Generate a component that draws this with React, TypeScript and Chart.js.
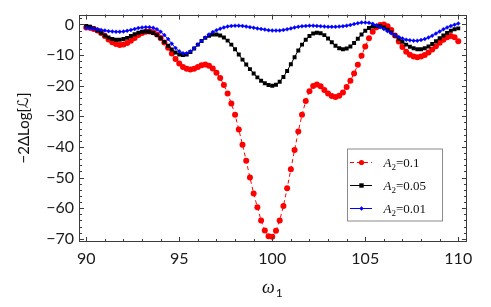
import React, { useEffect, useRef } from 'react';
import { Chart, registerables } from 'chart.js';
Chart.register(...registerables);

const omega = [
  90.0, 90.2, 90.4, 90.6, 90.8, 91.0, 91.2, 91.4, 91.6, 91.8,
  92.0, 92.2, 92.4, 92.6, 92.8, 93.0, 93.2, 93.4, 93.6, 93.8,
  94.0, 94.2, 94.4, 94.6, 94.8, 95.0, 95.2, 95.4, 95.6, 95.8,
  96.0, 96.2, 96.4, 96.6, 96.8, 97.0, 97.2, 97.4, 97.6, 97.8,
  98.0, 98.2, 98.4, 98.6, 98.8, 99.0, 99.2, 99.4, 99.6, 99.8,
  100.0, 100.2, 100.4, 100.6, 100.8, 101.0, 101.2, 101.4, 101.6, 101.8,
  102.0, 102.2, 102.4, 102.6, 102.8, 103.0, 103.2, 103.4, 103.6, 103.8,
  104.0, 104.2, 104.4, 104.6, 104.8, 105.0, 105.2, 105.4, 105.6, 105.8,
  106.0, 106.2, 106.4, 106.6, 106.8, 107.0, 107.2, 107.4, 107.6, 107.8,
  108.0, 108.2, 108.4, 108.6, 108.8, 109.0, 109.2, 109.4, 109.6, 109.8,
  110.0,
];

const redValues = [
  -1.0, -1.1, -1.5, -2.0, -2.8, -3.8, -4.9, -5.8, -6.4, -6.7,
  -6.6, -6.1, -5.3, -4.4, -3.5, -2.8, -2.4, -2.3, -2.6, -3.3,
  -4.4, -5.9, -7.6, -9.5, -11.3, -12.8, -13.9, -14.5, -14.7, -14.5,
  -13.9, -13.3, -13.1, -13.5, -14.4, -15.8, -17.5, -19.8, -22.6, -25.8,
  -29.5, -34.3, -39.3, -44.5, -50.0, -55.2, -59.7, -64.0, -67.3, -69.2,
  -69.3, -67.4, -64.0, -59.3, -53.5, -47.3, -41.0, -35.0, -29.5, -25.0,
  -21.8, -20.1, -19.6, -20.2, -21.4, -22.6, -23.4, -23.7, -23.3, -22.2,
  -20.4, -18.4, -16.0, -13.2, -10.2, -7.2, -4.5, -2.4, -0.9, -0.2,
  0.0, -0.6, -1.8, -3.6, -5.6, -7.4, -8.9, -9.9, -10.5, -10.7,
  -10.5, -10.0, -9.2, -8.2, -7.1, -6.0, -5.0, -4.2, -3.8, -4.2,
  -5.5,
];

const blackValues = [
  -0.5, -0.8, -1.3, -2.0, -2.8, -3.6, -4.3, -4.8, -5.0, -5.0,
  -4.8, -4.4, -3.8, -3.2, -2.7, -2.4, -2.3, -2.4, -2.8, -3.5,
  -4.5, -5.7, -7.0, -8.2, -9.2, -9.8, -10.0, -9.8, -9.0, -7.9,
  -6.6, -5.4, -4.4, -3.7, -3.3, -3.3, -3.6, -4.3, -5.3, -6.6,
  -8.1, -9.8, -11.5, -13.1, -14.6, -16.0, -17.3, -18.4, -19.2, -19.8,
  -20.0, -19.7, -18.7, -17.2, -15.2, -13.0, -10.7, -8.5, -6.6, -5.0,
  -3.8, -3.0, -2.7, -2.9, -3.5, -4.6, -5.8, -7.0, -7.8, -8.1,
  -7.9, -7.2, -6.1, -4.7, -3.3, -2.1, -1.2, -0.7, -0.5, -0.6,
  -1.0, -1.7, -2.6, -3.6, -4.7, -5.7, -6.6, -7.3, -7.8, -8.1,
  -8.1, -7.8, -7.2, -6.4, -5.5, -4.5, -3.6, -2.8, -2.1, -1.6,
  -1.3,
];

const blueValues = [
  -1.2, -1.3, -1.4, -1.6, -1.8, -2.0, -2.2, -2.3, -2.4, -2.4,
  -2.3, -2.1, -1.8, -1.5, -1.2, -1.0, -0.9, -0.9, -1.1, -1.6,
  -2.4, -3.5, -4.8, -6.3, -7.7, -8.8, -9.4, -9.4, -8.8, -7.8,
  -6.6, -5.4, -4.3, -3.3, -2.5, -1.9, -1.4, -1.0, -0.7, -0.5,
  -0.4, -0.4, -0.5, -0.7, -0.9, -1.1, -1.3, -1.5, -1.7, -1.9,
  -2.0, -2.0, -2.0, -1.8, -1.6, -1.3, -1.0, -0.8, -0.6, -0.5,
  -0.4, -0.4, -0.5, -0.6, -0.7, -0.8, -0.8, -0.8, -0.7, -0.6,
  -0.4, -0.2, 0.1, 0.4, 0.6, 0.6, 0.5, 0.2, -0.3, -0.9,
  -1.5, -2.2, -2.9, -3.5, -4.1, -4.6, -5.0, -5.2, -5.3, -5.3,
  -5.1, -4.8, -4.3, -3.7, -3.0, -2.3, -1.6, -1.0, -0.5, -0.1,
  0.3,
];

const seriesNames = ['0.1', '0.05', '0.01'];
const xTicks = [90, 95, 100, 105, 110];
const yTicks = [0, -10, -20, -30, -40, -50, -60, -70];
const xMinorStep = 1;
const yMinorStep = 2;

const tickFont = { family: 'Lato, "Open Sans", sans-serif', size: 16 };

const toPoints = (vals: number[]) => vals.map((v, i) => ({ x: omega[i], y: v }));

function drawMarker(ctx: CanvasRenderingContext2D, style: string, x: number, y: number, r: number, color: string) {
  ctx.fillStyle = color;
  ctx.beginPath();
  if (style === 'circle') {
    ctx.arc(x, y, r, 0, Math.PI * 2);
  } else if (style === 'rect') {
    ctx.rect(x - r, y - r, 2 * r, 2 * r);
  } else {
    ctx.moveTo(x, y - r);
    ctx.lineTo(x + r, y);
    ctx.lineTo(x, y + r);
    ctx.lineTo(x - r, y);
    ctx.closePath();
  }
  ctx.fill();
}

const framePlugin = {
  id: 'frameTicks',
  afterDatasetsDraw(chart: any) {
    const { ctx, chartArea: a, scales } = chart;
    const xs = scales.x;
    const ys = scales.y;
    ctx.save();
    ctx.strokeStyle = '#3c3c3c';
    ctx.lineWidth = 1;
    ctx.strokeRect(Math.round(a.left) + 0.5, Math.round(a.top) + 0.5, Math.round(a.right - a.left) - 1, Math.round(a.bottom - a.top) - 1);
    ctx.beginPath();
    for (let v = xTicks[0]; v <= xTicks[xTicks.length - 1] + 1e-9; v += xMinorStep) {
      const px = Math.round(xs.getPixelForValue(v)) + 0.5;
      const len = xTicks.includes(Math.round(v)) ? 5 : 3;
      ctx.moveTo(px, a.bottom);
      ctx.lineTo(px, a.bottom - len);
      ctx.moveTo(px, a.top);
      ctx.lineTo(px, a.top + len);
    }
    for (let v = -70; v <= ys.max + 1e-9; v += yMinorStep) {
      const py = Math.round(ys.getPixelForValue(v)) + 0.5;
      const len = v % 10 === 0 ? 5 : 3;
      ctx.moveTo(a.left, py);
      ctx.lineTo(a.left + len, py);
      ctx.moveTo(a.right, py);
      ctx.lineTo(a.right - len, py);
    }
    ctx.stroke();
    ctx.restore();
  },
  afterDraw(chart: any) {
    const { ctx } = chart;
    ctx.save();
    // y title
    ctx.translate(24, 128);
    ctx.rotate(-Math.PI / 2);
    ctx.fillStyle = '#111';
    ctx.textBaseline = 'middle';
    const sansF = '15px Lato, "DejaVu Sans", sans-serif';
    const scriptF = 'italic 15px "DejaVu Sans", sans-serif';
    const part1 = '\u22122\u0394Log[';
    const part2 = '\u2112';
    const part3 = ']';
    ctx.font = sansF;
    const w1 = ctx.measureText(part1).width;
    ctx.font = scriptF;
    const w2 = ctx.measureText(part2).width;
    ctx.font = sansF;
    const w3 = ctx.measureText(part3).width;
    let sx = -(w1 + w2 + w3) / 2;
    ctx.textAlign = 'left';
    ctx.fillText(part1, sx, 0);
    sx += w1;
    ctx.font = scriptF;
    ctx.fillText(part2, sx, 0);
    sx += w2;
    ctx.font = sansF;
    ctx.fillText(part3, sx, 0);
    ctx.restore();

    // x title
    ctx.save();
    ctx.fillStyle = '#111';
    ctx.textBaseline = 'alphabetic';
    ctx.textAlign = 'left';
    ctx.font = 'italic 18px "Liberation Serif", serif';
    const wo = ctx.measureText('\u03c9').width;
    ctx.fillText('\u03c9', 262, 293);
    ctx.font = '12px Lato, sans-serif';
    ctx.fillText('1', 262 + wo + 1, 297);
    ctx.restore();

    // legend
    ctx.save();
    const bx = 347, by = 148.5, bw = 95, bh = 72;
    ctx.fillStyle = '#ffffff';
    ctx.fillRect(bx, by, bw, bh);
    ctx.strokeStyle = '#8a8a8a';
    ctx.lineWidth = 1;
    ctx.strokeRect(bx + 0.5, by + 0.5, bw, bh);
    const rows = [162.5, 185.5, 208.5];
    chart.data.datasets.forEach((ds: any, i: number) => {
      const yy = rows[i];
      ctx.strokeStyle = ds.borderColor;
      ctx.lineWidth = 1;
      ctx.setLineDash(ds.borderDash || []);
      ctx.beginPath();
      ctx.moveTo(350, yy);
      ctx.lineTo(372, yy);
      ctx.stroke();
      ctx.setLineDash([]);
      const mr = ds.pointStyle === 'circle' ? 2.6 : ds.pointStyle === 'rect' ? 2.2 : 2.2;
      drawMarker(ctx, ds.pointStyle, 361.5, yy, mr, ds.pointBackgroundColor);
      ctx.fillStyle = '#111';
      ctx.textBaseline = 'alphabetic';
      ctx.textAlign = 'left';
      let tx = 383.5;
      const base = yy + 4.5;
      ctx.font = 'italic 13px "Liberation Serif", serif';
      ctx.fillText('A', tx, base);
      tx += ctx.measureText('A').width;
      ctx.font = '9px "Liberation Serif", serif';
      ctx.fillText('2', tx, base + 2.5);
      tx += ctx.measureText('2').width;
      ctx.font = '13px "Liberation Serif", serif';
      ctx.fillText('=' + seriesNames[i], tx, base);
    });
    ctx.restore();
  },
};

export default function App() {
  const ref = useRef<HTMLCanvasElement | null>(null);
  useEffect(() => {
    document.body.style.margin = '0';
    const canvas = ref.current;
    if (!canvas) return;
    const chart = new Chart(canvas, {
      type: 'line',
      data: {
        datasets: [
          {
            label: 'A2=0.1',
            data: toPoints(redValues),
            borderColor: '#ff0000',
            borderWidth: 1,
            borderDash: [4, 3],
            pointStyle: 'circle',
            pointRadius: 3,
            pointBackgroundColor: '#ff0000',
            pointBorderColor: '#ff0000',
            pointBorderWidth: 0,
            tension: 0,
            order: 3,
          },
          {
            label: 'A2=0.05',
            data: toPoints(blackValues),
            borderColor: '#000000',
            borderWidth: 1,
            pointStyle: 'rect',
            pointRadius: 2.8,
            pointBackgroundColor: '#000000',
            pointBorderColor: '#000000',
            pointBorderWidth: 0,
            tension: 0,
            order: 2,
          },
          {
            label: 'A2=0.01',
            data: toPoints(blueValues),
            borderColor: '#0000ff',
            borderWidth: 1,
            pointStyle: 'rectRot',
            pointRadius: 2,
            pointBackgroundColor: '#0000ff',
            pointBorderColor: '#0000ff',
            pointBorderWidth: 0.4,
            tension: 0,
            order: 1,
          },
        ],
      },
      options: {
        animation: false,
        responsive: false,
        devicePixelRatio: 1,
        layout: { padding: { top: 2, right: 24, left: 0, bottom: 0 } },
        plugins: { legend: { display: false }, tooltip: { enabled: false } },
        scales: {
          x: {
            type: 'linear',
            min: 89.61,
            max: 110.47,
            grid: { display: false, drawTicks: false },
            border: { display: false },
            afterBuildTicks: (s: any) => { s.ticks = xTicks.map((v) => ({ value: v })); },
            afterFit: (s: any) => { s.height = 65; },
            ticks: {
              font: tickFont,
              color: '#1a1a1a',
              padding: 7,
              maxRotation: 0,
              autoSkip: false,
              callback: (v: any) => String(v),
            },
          },
          y: {
            type: 'linear',
            min: -71.05,
            max: 3.2,
            grid: { display: false, drawTicks: false },
            border: { display: false },
            afterBuildTicks: (s: any) => { s.ticks = yTicks.map((v) => ({ value: v })); },
            afterFit: (s: any) => { s.width = 79; },
            ticks: {
              font: tickFont,
              color: '#1a1a1a',
              padding: 5,
              autoSkip: false,
              callback: (v: any) => (v < 0 ? '\u2212' + Math.abs(v) : String(v)),
            },
          },
        },
      },
      plugins: [framePlugin],
    });
    return () => chart.destroy();
  }, []);
  return (
    <div style={{ position: 'relative', width: 491, height: 307, background: '#fff' }}>
      <canvas ref={ref} width={491} height={307} style={{ display: 'block' }} />
    </div>
  );
}
